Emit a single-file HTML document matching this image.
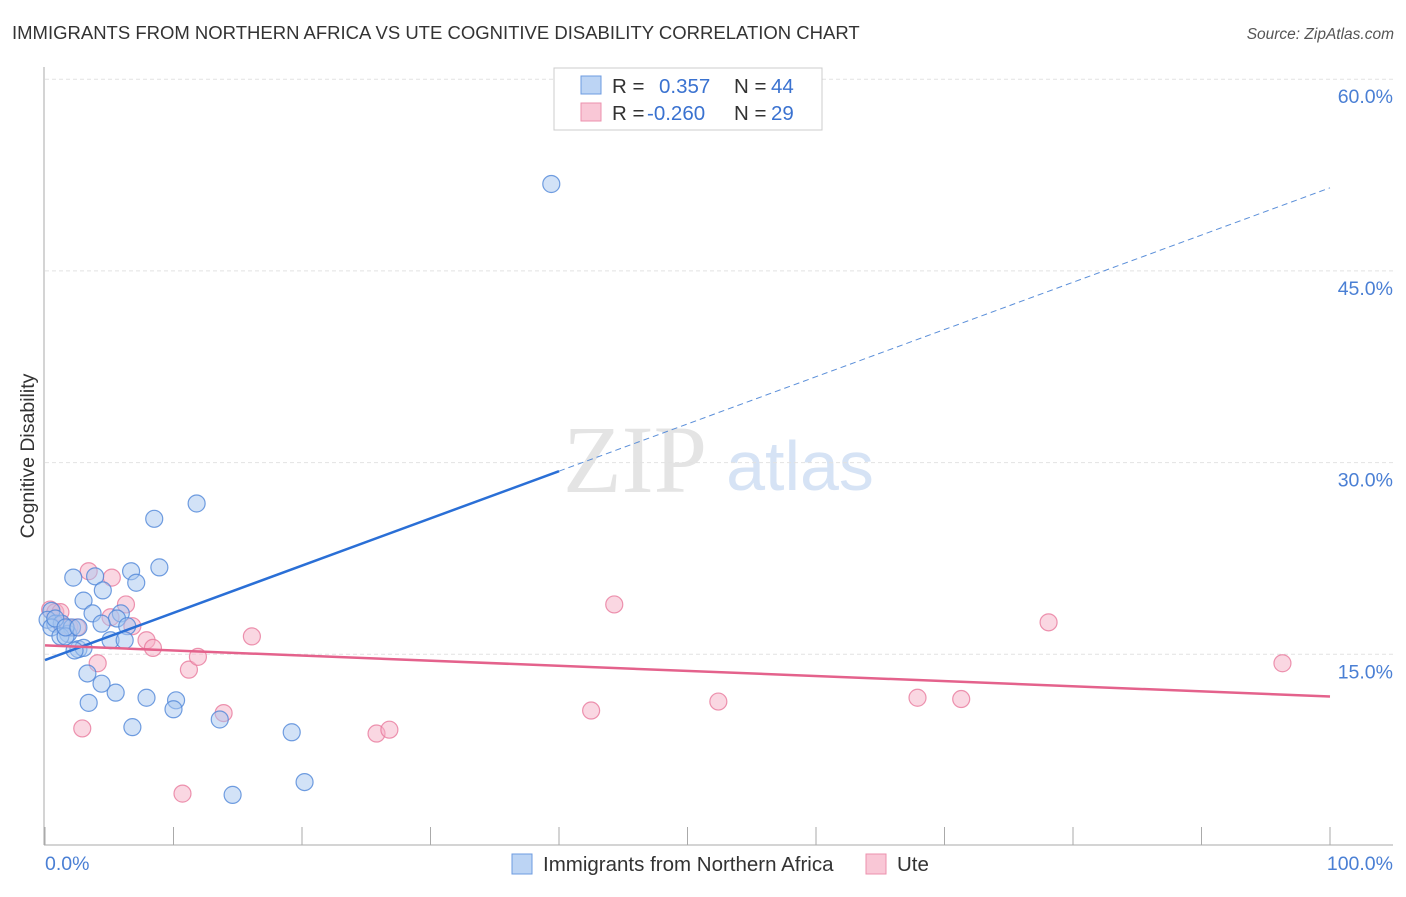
<!DOCTYPE html>
<html><head><meta charset="utf-8"><style>
body{margin:0;background:#fff;font-family:"Liberation Sans",sans-serif;}
</style></head><body>
<svg width="1406" height="892" xmlns="http://www.w3.org/2000/svg" font-family="Liberation Sans, sans-serif">
<text x="12" y="39" font-size="18.5" fill="#333">IMMIGRANTS FROM NORTHERN AFRICA VS UTE COGNITIVE DISABILITY CORRELATION CHART</text>
<text x="1394" y="39" font-size="15.5" fill="#555" text-anchor="end" font-style="italic">Source: ZipAtlas.com</text>
<text x="635" y="492" font-size="96" fill="#e4e4e4" font-family="Liberation Serif, serif" text-anchor="middle">ZIP</text>
<text x="800" y="490" font-size="70" fill="#d6e3f5" text-anchor="middle">atlas</text>
<g id="grid"></g>
<line x1="44" y1="67" x2="44" y2="845" stroke="#aaa"/>
<line x1="44" y1="845" x2="1393" y2="845" stroke="#aaa"/>
<g id="ticks"></g>
<text transform="translate(34,456) rotate(-90)" font-size="19.5" fill="#333" text-anchor="middle">Cognitive Disability</text>
<text x="45" y="870" font-size="19.5" fill="#4a7fd4">0.0%</text>
<text x="1393" y="870" font-size="19.5" fill="#4a7fd4" text-anchor="end">100.0%</text>
<g id="marks"></g>
<g>
<rect x="554" y="68" width="268" height="62" fill="#fff" stroke="#ccc"/>
<rect x="581" y="76" width="20" height="18" fill="#bcd4f4" stroke="#6d9be0"/>
<rect x="581" y="103" width="20" height="18" fill="#f9c7d6" stroke="#ec91ae"/>
<text x="612" y="93" font-size="20.5" fill="#333">R = <tspan x="659" fill="#3a72d0">0.357</tspan><tspan x="734">N = </tspan><tspan x="771" fill="#3a72d0">44</tspan></text>
<text x="612" y="120" font-size="20.5" fill="#333">R = <tspan x="647" fill="#3a72d0">-0.260</tspan><tspan x="734">N = </tspan><tspan x="771" fill="#3a72d0">29</tspan></text>
</g>
<g>
<rect x="512" y="854" width="20" height="20" fill="#bcd4f4" stroke="#6d9be0"/>
<text x="543" y="871" font-size="20.5" fill="#333">Immigrants from Northern Africa</text>
<rect x="866" y="854" width="20" height="20" fill="#f9c7d6" stroke="#ec91ae"/>
<text x="897" y="871" font-size="20.5" fill="#333">Ute</text>
</g>
</svg>
<script>
const yTicks=[15,30,45,60];
const xTicks=[0,10,20,30,40,50,60,70,80,90,100];
const blueX=[39.4,11.8,8.5,8.9,2.2,3.9,6.7,7.1,4.5,3.0,3.7,5.9,5.6,0.5,0.2,0.8,1.3,0.5,1.8,2.1,5.1,6.4,6.2,2.6,3.0,3.3,4.4,5.5,7.9,10.2,10.0,3.4,6.8,13.6,19.2,14.6,20.2,1.2,1.6,2.3,0.8,1.6,2.6,4.4];
const blueY=[51.8,26.8,25.6,21.8,21.0,21.1,21.5,20.6,20.0,19.2,18.2,18.2,17.8,18.4,17.7,17.4,17.4,17.1,16.6,17.1,16.1,17.2,16.1,15.4,15.5,13.5,12.7,12.0,11.6,11.4,10.7,11.2,9.3,9.9,8.9,4.0,5.0,16.4,16.4,15.3,17.8,17.1,17.1,17.4];
const pinkX=[0.4,0.8,3.4,5.2,6.3,6.8,5.1,7.9,8.4,1.3,1.9,2.5,4.1,11.2,11.9,16.1,2.9,13.9,10.7,25.8,26.8,42.5,44.3,52.4,67.9,71.3,78.1,96.3,1.2];
const pinkY=[18.5,18.3,21.5,21.0,18.9,17.2,17.9,16.1,15.5,17.3,17.1,17.1,14.3,13.8,14.8,16.4,9.2,10.4,4.1,8.8,9.1,10.6,18.9,11.3,11.6,11.5,17.5,14.3,18.3];
const blueTrend=[14.55,51.5];
const pinkTrend=[15.7,11.7];
const blueSolidEnd=40;
const NS='http://www.w3.org/2000/svg';
const sx=v=>45+v*12.85, sy=v=>846-v*12.78;
function mk(t,a,p){const e=document.createElementNS(NS,t);for(const k in a)e.setAttribute(k,a[k]);document.getElementById(p).appendChild(e);return e;}
yTicks.forEach(t=>{
 const l=mk('line',{x1:45,x2:1393,y1:sy(t),y2:sy(t),stroke:'#e2e2e2','stroke-dasharray':'4,3'},'grid');
 
 
 const tx=mk('text',{x:1393,y:sy(t)+24,'font-size':19.5,fill:'#4a7fd4','text-anchor':'end'},'grid');
 tx.textContent=t.toFixed(1)+'%';
 
 
});
xTicks.forEach(t=>{
 const l=mk('line',{x1:sx(t),x2:sx(t),y1:827,y2:845,stroke:'#aaa'},'ticks');
 
 
});
function pts(xs,ys,fill,stroke,name){xs.forEach((x,i)=>{
 const c=mk('circle',{cx:sx(x),cy:sy(ys[i]),r:8.5,fill:fill,'fill-opacity':0.5,stroke:stroke,'stroke-width':1.2,'stroke-opacity':0.8},'marks');
 
 
});}
pts(pinkX,pinkY,'#f5b0c5','#e8799c','ute-point');
pts(blueX,blueY,'#a6c6f0','#4f86d8','immigrant-point');
const by=x=>blueTrend[0]+(blueTrend[1]-blueTrend[0])*x/100;
let l1=mk('line',{x1:sx(0),y1:sy(by(0)),x2:sx(blueSolidEnd),y2:sy(by(blueSolidEnd)),stroke:'#2a6fd6','stroke-width':2.5},'marks');


let l2=mk('line',{x1:sx(blueSolidEnd),y1:sy(by(blueSolidEnd)),x2:sx(100),y2:sy(by(100)),stroke:'#5b8fd9','stroke-width':1,'stroke-dasharray':'6,4'},'marks');


let l3=mk('line',{x1:sx(0),y1:sy(pinkTrend[0]),x2:sx(100),y2:sy(pinkTrend[1]),stroke:'#e4628c','stroke-width':2.5},'marks');


</script>
</body></html>
